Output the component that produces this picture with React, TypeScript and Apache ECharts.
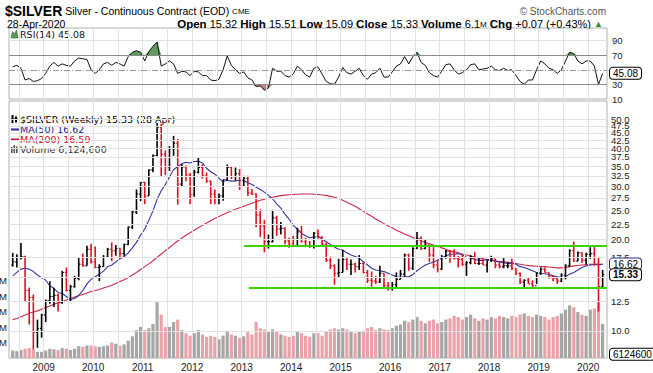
import { useEffect, useRef } from "react";
import * as echarts from "echarts";

// ---------- data (monthly, May 2008 .. Apr 2020) ----------
const FIRST_YEAR = 2008;
const FIRST_MONTH = 5; // May
const firstOpen = 16.5;

const high = [
  18.1, 17.9, 19.5, 17.7, 13.9, 13.2, 10.9, 11.4,
  12.7, 14.6, 13.9, 13.3, 15.8, 16.2, 14.2, 15.2, 17.5, 18.0, 19.1, 19.4,
  19.0, 16.6, 17.8, 18.8, 19.6, 19.2, 18.8, 19.4, 22.1, 25.0, 29.3, 31.0,
  31.0, 34.1, 38.2, 48.5, 48.2, 39.4, 40.7, 44.0, 43.0, 35.5, 35.2, 33.2,
  34.0, 37.5, 35.5, 33.3, 31.3, 29.3, 28.4, 31.5, 35.4, 34.9, 34.6, 34.2,
  32.5, 32.5, 29.4, 28.4, 25.2, 23.2, 20.8, 25.1, 24.0, 22.9, 22.0, 20.3,
  20.6, 21.9, 22.2, 20.3, 19.8, 21.2, 21.6, 20.5, 19.6, 17.6, 16.6, 17.3,
  18.5, 17.4, 17.2, 16.8, 17.8, 17.0, 15.9, 15.7, 15.2, 16.4, 15.5, 14.5,
  14.5, 15.6, 15.9, 18.0, 18.0, 18.9, 21.2, 20.5, 20.1, 19.3, 18.9, 17.2,
  17.8, 18.5, 18.5, 18.6, 17.7, 17.8, 17.0, 17.8, 18.2, 17.5, 17.3, 17.1,
  17.7, 17.3, 16.9, 17.4, 16.9, 17.3, 16.1, 15.6, 14.8, 15.0, 14.7, 15.6,
  16.2, 16.2, 15.6, 15.3, 15.0, 15.5, 16.6, 18.6, 19.7, 18.3, 18.2, 18.1,
  18.9, 18.9, 17.5, 15.9,
];
const low = [
  16.3, 16.2, 17.2, 12.5, 10.5, 8.7, 8.8, 9.5,
  10.7, 12.3, 12.0, 11.6, 12.3, 13.5, 12.5, 13.9, 14.7, 16.3, 16.4, 16.7,
  16.1, 14.6, 16.3, 17.4, 17.0, 17.7, 17.3, 17.7, 19.2, 21.7, 24.3, 26.8,
  26.2, 27.9, 33.4, 37.7, 32.3, 32.7, 33.7, 37.8, 26.1, 30.0, 31.2, 26.2,
  27.7, 33.1, 31.8, 30.8, 26.2, 26.2, 26.2, 26.9, 31.4, 31.7, 31.3, 29.2,
  29.9, 27.9, 28.1, 22.0, 20.4, 18.2, 18.7, 19.6, 20.6, 20.8, 19.3, 18.8,
  19.0, 19.2, 19.6, 18.9, 18.8, 18.7, 20.2, 19.2, 16.9, 16.0, 14.2, 15.0,
  15.6, 15.9, 15.3, 15.6, 15.9, 15.5, 14.4, 14.0, 14.3, 14.4, 13.9, 13.6,
  13.6, 13.9, 14.8, 15.1, 15.8, 15.9, 18.6, 18.5, 18.6, 16.9, 16.1, 15.6,
  15.9, 17.3, 16.8, 17.2, 16.2, 16.4, 15.2, 16.6, 16.6, 16.5, 16.5, 15.6,
  16.9, 16.1, 16.1, 16.1, 16.1, 15.9, 15.3, 14.3, 13.9, 14.3, 13.9, 14.3,
  15.3, 15.6, 14.9, 14.6, 14.3, 14.5, 14.8, 16.3, 16.9, 17.0, 16.8, 16.6,
  17.3, 16.4, 11.6, 13.8,
];
const close = [
  16.9, 17.5, 17.6, 13.6, 12.9, 9.9, 10.2, 11.3,
  12.6, 13.0, 13.1, 12.4, 15.6, 13.6, 14.0, 14.9, 16.6, 16.4, 18.6, 16.9,
  16.2, 16.3, 17.5, 18.6, 18.4, 18.7, 18.0, 19.3, 22.0, 24.7, 28.3, 30.9,
  27.9, 34.0, 37.9, 47.0, 38.3, 34.8, 39.9, 41.6, 30.5, 34.7, 32.7, 28.2,
  33.4, 34.6, 32.5, 31.2, 28.3, 27.4, 27.9, 31.6, 34.6, 32.3, 33.0, 30.0,
  31.9, 28.5, 28.3, 24.1, 22.2, 19.7, 19.7, 23.6, 21.7, 21.8, 19.8, 19.4,
  19.1, 21.2, 19.7, 19.1, 19.0, 21.0, 20.4, 19.3, 17.1, 16.4, 15.5, 15.6,
  17.2, 16.6, 16.6, 16.3, 16.7, 15.6, 14.7, 14.6, 14.5, 15.5, 14.1, 13.8,
  14.2, 14.8, 15.4, 17.8, 16.1, 18.7, 20.2, 18.7, 19.2, 17.8, 16.5, 16.0,
  17.5, 18.3, 18.2, 17.3, 17.2, 16.6, 16.8, 17.6, 16.7, 16.7, 16.5, 17.1,
  17.3, 16.5, 16.3, 16.4, 16.4, 16.1, 15.5, 14.5, 14.7, 14.3, 14.1, 15.5,
  16.0, 15.6, 15.1, 14.9, 14.6, 15.3, 16.4, 18.4, 17.0, 18.1, 17.1, 17.9,
  18.0, 16.6, 14.0, 15.33,
];
const ma50 = [
  15.2, 15.6, 16.0, 16.1, 16.0, 15.7, 15.3, 15.0,
  14.7, 14.1, 13.8, 13.4, 13.3, 13.0, 12.7, 12.8, 13.1, 13.6, 14.3, 14.8,
  15.1, 15.4, 15.75, 16.3, 16.5, 16.9, 17.3, 17.6, 18.1, 18.8, 19.6, 20.7,
  21.7, 23.2, 24.9, 27.2, 29.0, 30.4, 32.2, 34.1, 34.8, 35.6, 36.0, 35.8,
  36.2, 36.3, 35.8, 34.4, 33.5, 32.9, 31.9, 31.1, 31.4, 31.2, 31.25, 31.4,
  31.3, 30.8, 30.4, 29.8, 29.3, 28.7, 28.0, 27.3, 26.25, 25.4, 24.3, 23.4,
  22.3, 21.7, 21.0, 20.6, 20.3, 20.4, 20.5, 20.1, 19.7, 19.3, 18.9, 18.6,
  18.5, 18.1, 17.8, 17.6, 17.4, 16.9, 16.5, 16.1, 15.9, 15.8, 15.7, 15.5,
  15.3, 15.1, 15.0, 15.1, 15.1, 15.35, 15.8, 16.15, 16.5, 16.7, 16.9, 17.1,
  17.4, 17.7, 17.9, 17.9, 18.0, 17.8, 17.5, 17.4, 17.2, 17.1, 17.1, 17.2,
  17.2, 17.0, 16.9, 16.8, 16.7, 16.7, 16.6, 16.3, 16.2, 16.0, 15.8, 15.6,
  15.5, 15.45, 15.35, 15.2, 15.1, 15.0, 15.1, 15.4, 15.6, 15.9, 16.2, 16.4,
  16.5, 16.6, 16.5, 16.62,
];
const ma200 = [
  10.9, 11.0, 11.15, 11.3, 11.45, 11.55, 11.65, 11.8,
  11.95, 12.1, 12.25, 12.4, 12.5, 12.65, 12.8, 12.95, 13.1, 13.2, 13.35, 13.5,
  13.6, 13.7, 13.85, 14.0, 14.15, 14.35, 14.55, 14.75, 15.0, 15.3, 15.6, 15.95,
  16.3, 16.65, 17.05, 17.5, 17.95, 18.4, 18.85, 19.35, 19.8, 20.25, 20.7, 21.1,
  21.5, 21.9, 22.3, 22.7, 23.1, 23.5, 23.85, 24.2, 24.55, 24.9, 25.2, 25.5,
  25.8, 26.1, 26.4, 26.7, 27.0, 27.2, 27.4, 27.6, 27.8, 27.95, 28.05, 28.15,
  28.2, 28.25, 28.3, 28.3, 28.3, 28.25, 28.2, 28.1, 28.0, 27.8, 27.6, 27.35,
  27.0, 26.6, 26.2, 25.8, 25.3, 24.8, 24.3, 23.9, 23.4, 23.0, 22.6, 22.2,
  21.9, 21.5, 21.2, 20.9, 20.6, 20.35, 20.1, 19.85, 19.6, 19.4, 19.2, 19.0,
  18.8, 18.6, 18.4, 18.25, 18.1, 17.95, 17.8, 17.65, 17.5, 17.4, 17.3, 17.2,
  17.1, 17.0, 16.95, 16.9, 16.85, 16.8, 16.7, 16.6, 16.5, 16.45, 16.4, 16.35,
  16.3, 16.3, 16.25, 16.2, 16.15, 16.15, 16.2, 16.3, 16.4, 16.45, 16.5, 16.55,
  16.6, 16.6, 16.6, 16.59,
];
const rsi14 = [
  54, 56, 52, 36, 38, 34, 35, 38,
  45, 55, 60, 55, 58, 56, 55, 62, 66, 65, 64, 50,
  45, 50, 58, 60, 56, 60, 58, 55, 68, 74, 76, 74,
  62, 75, 82, 88, 55, 58, 62, 58, 45, 48, 47, 42,
  48, 47, 42, 42, 36, 35, 37, 50, 69, 56, 50, 45,
  47, 39, 36, 27, 28, 22, 25, 52, 48, 48, 42, 40,
  44, 55, 50, 43, 40, 52, 54, 44, 34, 31, 30, 40,
  53, 46, 44, 48, 52, 42, 37, 44, 46, 52, 40, 40,
  47, 55, 58, 68, 58, 68, 74, 60, 56, 46, 42, 40,
  48, 57, 58, 50, 44, 46, 50, 57, 58, 50, 51, 52,
  55, 50, 49, 52, 49, 50, 42, 34, 30, 36, 36, 50,
  62, 58, 52, 50, 45, 50, 62, 74, 72, 62, 58, 62,
  62, 55, 30, 45.08,
];
const volumeM = [
  12, 11, 13, 15, 16, 14, 10, 10,
  12, 15, 14, 13, 16, 15, 13, 15, 19, 18, 20, 20,
  19, 18, 19, 20, 25, 23, 20, 22, 28, 35, 45, 50,
  45, 48, 55, 90, 70, 50, 50, 58, 62, 45, 40, 36,
  40, 45, 38, 34, 36, 34, 30, 36, 44, 38, 36, 32,
  35, 42, 38, 58, 48, 46, 42, 46, 42, 38, 36, 34,
  36, 42, 40, 36, 34, 40, 40, 36, 42, 46, 48, 46,
  48, 46, 42, 40, 42, 44, 48, 50, 45, 48, 46, 45,
  48, 52, 54, 60, 58, 62, 66, 60, 56, 60, 62, 56,
  58, 62, 64, 68, 66, 62, 66, 70, 64, 60, 64, 62,
  66, 64, 68, 66, 64, 68, 66, 70, 72, 68, 66, 70,
  68, 66, 62, 66, 68, 72, 78, 85, 82, 74, 70, 68,
  78, 80, 90, 55,
];

const priceTicks = [10, 12.5, 15, 17.5, 20, 22.5, 25, 27.5, 30, 32.5, 35, 37.5, 40, 42.5, 45, 47.5, 50];
const hiddenPriceLabels = [15]; // covered by the last-price tag in the reference
const yearTicks = [2009, 2010, 2011, 2012, 2013, 2014, 2015, 2016, 2017, 2018, 2019, 2020];
const supportLines = [
  { from: 2013.05, price: 19.1 },
  { from: 2013.15, price: 13.86 },
];
const lastValues = { price: 15.33, ma50: 16.62, ma200: 16.59, rsi: 45.08, volume: 6124600 };

// ---------- layout ----------
const X_MIN = 2008.3;
const X_MAX = 2020.38;
const LEFT = 9;
const RIGHT = 46;

const timeOf = (i: number) => FIRST_YEAR + (FIRST_MONTH - 1 + i + 0.5) / 12;

export default function App() {
  const ref = useRef<HTMLDivElement>(null);

  useEffect(() => {
    if (!ref.current) return;
    const chart = echarts.init(ref.current, undefined, { renderer: "svg" });

    const halfYears: number[] = [];
    for (let y = 2008.5; y <= 2020.01; y += 0.5) halfYears.push(y);

    const ohlc = close.map((c, i) => [timeOf(i), i === 0 ? firstOpen : close[i - 1], high[i], low[i], c]);
    const lineOf = (arr: number[]) => arr.map((v, i) => [timeOf(i), v]);
    const vol = volumeM.map((v, i) => {
      const up = close[i] >= (i === 0 ? firstOpen : close[i - 1]);
      return { value: [timeOf(i), v], itemStyle: { color: up ? "#a6a6a6" : "#eba1a8" } };
    });

    const baseX = {
      type: "value",
      min: X_MIN,
      max: X_MAX,
      axisLine: { show: false },
      axisTick: { show: false },
      splitLine: { show: false },
      axisLabel: { show: false },
    };
    const noLine = { color: "rgba(0,0,0,0)", width: 0 };
    const tagLabel = (text: string, border: string, bold: boolean) => ({
      show: true,
      position: "end",
      formatter: text,
      color: "#000",
      fontSize: 10,
      fontWeight: bold ? "bold" : "normal",
      backgroundColor: "#fff",
      borderColor: border,
      borderWidth: 1,
      borderRadius: 3,
      padding: [1, 3, 0, 3],
      distance: 3,
    });
    const gridLine = { color: "#e2e2e2", width: 1, type: "solid" };

    const legendFont = "9.5px DejaVu Sans";

    chart.setOption({
      animation: false,
      textStyle: { fontFamily: "Liberation Sans, Arial, sans-serif" },
      grid: [
        { left: LEFT, right: RIGHT, top: 28, height: 71, show: true, borderColor: "#b0b0b0", borderWidth: 1, backgroundColor: "#fff", containLabel: false, outerBoundsMode: "none" },
        { left: LEFT, right: RIGHT, top: 101, height: 257, show: true, borderColor: "#b0b0b0", borderWidth: 1, backgroundColor: "#fff", containLabel: false, outerBoundsMode: "none" },
        { left: LEFT, right: RIGHT, top: 280.5, height: 77.5, show: false, containLabel: false, outerBoundsMode: "none" },
      ],
      xAxis: [
        { ...baseX, gridIndex: 0 },
        {
          ...baseX,
          gridIndex: 1,
          axisLabel: {
            show: true,
            customValues: yearTicks,
            formatter: (v: number) => String(Math.round(v)),
            fontSize: 10,
            color: "#222",
            margin: 4,
          },
        },
        { ...baseX, gridIndex: 2 },
      ],
      yAxis: [
        {
          type: "value",
          gridIndex: 0,
          position: "right",
          min: 10,
          max: 107.1,
          interval: 20,
          axisLine: { show: false },
          axisTick: { show: false },
          splitLine: { show: false },
          axisLabel: {
            fontSize: 9.5,
            color: "#222",
            margin: 5,
            showMaxLabel: false,
            showMinLabel: true,
            formatter: (v: number) => (Math.abs(v - 50) < 0.01 ? "" : String(v)),
          },
        },
        {
          type: "log",
          gridIndex: 1,
          min: 8.146,
          max: 57.34,
          axisLine: { show: false },
          axisTick: { show: false },
          splitLine: { show: false },
          axisLabel: { show: false },
        },
        {
          type: "value",
          gridIndex: 2,
          position: "left",
          min: 0,
          max: 125,
          interval: 25,
          axisLine: { show: false },
          axisTick: { show: false },
          splitLine: { show: false },
          axisLabel: { formatter: "{value}M", fontSize: 9.5, color: "#222", margin: 2, showMinLabel: false },
        },
      ],
      series: [
        // RSI panel grid lines
        {
          type: "line",
          xAxisIndex: 0,
          yAxisIndex: 0,
          data: [],
          z: 1,
          silent: true,
          markLine: {
            silent: true,
            symbol: ["none", "none"],
            label: { show: false },
            data: [
              ...halfYears.map((t) => ({ xAxis: t, lineStyle: gridLine })),
              { yAxis: 90, lineStyle: gridLine },
              { yAxis: 70, lineStyle: { color: "#8a8a8a", width: 1.2, type: "solid" } },
              { yAxis: 30, lineStyle: { color: "#8a8a8a", width: 1.2, type: "solid" } },
              { yAxis: 50, lineStyle: { color: "#9a9a9a", width: 1, type: [6, 2, 1, 2] } },
            ],
          },
        },
        {
          type: "line",
          xAxisIndex: 0,
          yAxisIndex: 0,
          data: lineOf(rsi14.map((v) => Math.max(v, 70))),
          showSymbol: false,
          lineStyle: { width: 0, opacity: 0 },
          areaStyle: { origin: 70, color: "#5e9c5e", opacity: 1 },
          z: 2,
          silent: true,
        },
        {
          type: "line",
          xAxisIndex: 0,
          yAxisIndex: 0,
          data: lineOf(rsi14.map((v) => Math.min(v, 30))),
          showSymbol: false,
          lineStyle: { width: 0, opacity: 0 },
          areaStyle: { origin: 30, color: "#c47f7f", opacity: 1 },
          z: 2,
          silent: true,
        },
        {
          type: "line",
          xAxisIndex: 0,
          yAxisIndex: 0,
          data: lineOf(rsi14),
          showSymbol: false,
          lineStyle: { color: "#111", width: 1 },
          z: 3,
          silent: true,
          markLine: {
            silent: true,
            symbol: ["none", "none"],
            data: [{ yAxis: lastValues.rsi, lineStyle: noLine, label: tagLabel(lastValues.rsi.toFixed(2), "#000", false) }],
          },
        },
        // main panel grid lines and price labels
        {
          type: "line",
          xAxisIndex: 1,
          yAxisIndex: 1,
          data: [],
          z: 1,
          silent: true,
          markLine: {
            silent: true,
            symbol: ["none", "none"],
            data: [
              ...halfYears.map((t) => ({ xAxis: t, lineStyle: gridLine, label: { show: false } })),
              ...priceTicks.map((p) => ({
                yAxis: p,
                lineStyle: gridLine,
                label: {
                  show: !hiddenPriceLabels.includes(p),
                  position: "end",
                  formatter: p.toFixed(1),
                  color: "#222",
                  fontSize: 9.5,
                  distance: 4,
                },
              })),
            ],
          },
        },
        // volume
        {
          type: "bar",
          xAxisIndex: 2,
          yAxisIndex: 2,
          data: vol,
          barWidth: 3.2,
          z: 2,
          silent: true,
          markLine: {
            silent: true,
            symbol: ["none", "none"],
            data: [{ yAxis: lastValues.volume / 1e6, lineStyle: noLine, label: tagLabel(String(lastValues.volume), "#000", false) }],
          },
        },
        // MA(200)
        {
          type: "line",
          xAxisIndex: 1,
          yAxisIndex: 1,
          data: lineOf(ma200),
          showSymbol: false,
          lineStyle: { color: "#d2294a", width: 1.1 },
          z: 3,
          silent: true,
        },
        // MA(50)
        {
          type: "line",
          xAxisIndex: 1,
          yAxisIndex: 1,
          data: lineOf(ma50),
          showSymbol: false,
          lineStyle: { color: "#3535a0", width: 1.1 },
          z: 3,
          silent: true,
          markLine: {
            silent: true,
            symbol: ["none", "none"],
            data: [{ yAxis: lastValues.ma50, lineStyle: noLine, label: tagLabel(lastValues.ma50.toFixed(2), "#2a2a8a", false) }],
          },
        },
        // price bars
        {
          type: "custom",
          xAxisIndex: 1,
          yAxisIndex: 1,
          data: ohlc,
          encode: { x: 0, y: [1, 2, 3, 4] },
          z: 4,
          silent: true,
          renderItem: (_params: any, api: any) => {
            const t = api.value(0);
            const o = api.value(1);
            const h = api.value(2);
            const l = api.value(3);
            const c = api.value(4);
            const ph = api.coord([t, h]);
            const pl = api.coord([t, l]);
            const po = api.coord([t, o]);
            const pc = api.coord([t, c]);
            const color = c >= o ? "#000" : "#e0101e";
            return {
              type: "group",
              children: [
                { type: "line", shape: { x1: ph[0], y1: ph[1], x2: pl[0], y2: pl[1] }, style: { stroke: color, lineWidth: 1.6 } },
                { type: "line", shape: { x1: po[0] - 1.6, y1: po[1], x2: po[0], y2: po[1] }, style: { stroke: color, lineWidth: 1.1 } },
                { type: "line", shape: { x1: pc[0], y1: pc[1], x2: pc[0] + 1.6, y2: pc[1] }, style: { stroke: color, lineWidth: 1.1 } },
              ],
            };
          },
          markLine: {
            silent: true,
            symbol: ["none", "none"],
            data: [{ yAxis: lastValues.price, lineStyle: noLine, label: tagLabel(lastValues.price.toFixed(2), "#000", true) }],
          },
        },
        // support / resistance lines
        {
          type: "line",
          xAxisIndex: 1,
          yAxisIndex: 1,
          data: [],
          z: 5,
          silent: true,
          markLine: {
            silent: true,
            symbol: ["none", "none"],
            label: { show: false },
            lineStyle: { color: "#3bd400", width: 2, type: "solid" },
            data: supportLines.map((s) => [{ coord: [s.from, s.price] }, { coord: [X_MAX, s.price] }]),
          },
        },
      ],
      graphic: {
        elements: [
          {
            type: "text",
            x: 5,
            y: 11,
            style: {
              text: "{a|$SILVER} {b|Silver - Continuous Contract (EOD)} {c|CME}",
              verticalAlign: "middle",
              textVerticalAlign: "middle",
              rich: {
                a: { font: "bold 14px Liberation Sans", fill: "#000" },
                b: { font: "10.5px Liberation Sans", fill: "#000" },
                c: { font: "8px Liberation Sans", fill: "#000" },
              },
              font: "10.5px Liberation Sans",
            },
          },
          {
            type: "text",
            x: 606,
            y: 11,
            style: {
              text: "© StockCharts.com",
              font: "10px Liberation Sans",
              fill: "#555",
              align: "right",
              textAlign: "right",
              verticalAlign: "middle",
              textVerticalAlign: "middle",
            },
          },
          {
            type: "text",
            x: 7,
            y: 24,
            style: {
              text: "28-Apr-2020",
              font: "10.5px Liberation Sans",
              fill: "#000",
              verticalAlign: "middle",
              textVerticalAlign: "middle",
            },
          },
          {
            type: "text",
            x: 603,
            y: 24,
            style: {
              text: "{b|Open} {v|15.32} {b|High} {v|15.51} {b|Low} {v|15.09} {b|Close} {v|15.33} {b|Volume} {v|6.1}{s|M} {b|Chg} {v|+0.07 (+0.43%)} {g|▲}",
              font: "11px Liberation Sans",
              align: "right",
              textAlign: "right",
              verticalAlign: "middle",
              textVerticalAlign: "middle",
              rich: {
                b: { font: "bold 11.5px Liberation Sans", fill: "#000" },
                v: { font: "11px Liberation Sans", fill: "#000" },
                s: { font: "8px Liberation Sans", fill: "#000" },
                g: { font: "9px Liberation Sans", fill: "#2e8b2e" },
              },
            },
          },
          // RSI legend
          {
            type: "polygon",
            shape: { points: [[11, 38], [12.5, 31.5], [14.5, 34], [16.5, 30], [18, 38]] },
            style: { fill: "#5e9c5e", stroke: "#2e5e2e", lineWidth: 0.6 },
          },
          {
            type: "text",
            x: 20,
            y: 34.5,
            style: { text: "RSI(14) 45.08", font: legendFont, fill: "#111", verticalAlign: "middle", textVerticalAlign: "middle" },
          },
          // main legend
          { type: "rect", shape: { x: 11.5, y: 115, width: 2, height: 8 }, style: { fill: "#000" } },
          { type: "rect", shape: { x: 15, y: 116.5, width: 2, height: 6 }, style: { fill: "#000" } },
          { type: "line", shape: { x1: 11, y1: 119, x2: 18, y2: 119 }, style: { stroke: "#000", lineWidth: 0.8 } },
          {
            type: "text",
            x: 20,
            y: 119.5,
            style: { text: "$SILVER (Weekly) 15.33 (28 Apr)", font: legendFont, fill: "#000", verticalAlign: "middle", textVerticalAlign: "middle" },
          },
          { type: "line", shape: { x1: 11, y1: 129.5, x2: 19, y2: 129.5 }, style: { stroke: "#2a2a9a", lineWidth: 2 } },
          {
            type: "text",
            x: 20,
            y: 129.5,
            style: { text: "MA(50) 16.62", font: legendFont, fill: "#20208f", verticalAlign: "middle", textVerticalAlign: "middle" },
          },
          { type: "line", shape: { x1: 11, y1: 139.5, x2: 19, y2: 139.5 }, style: { stroke: "#d0103a", lineWidth: 2 } },
          {
            type: "text",
            x: 20,
            y: 139.5,
            style: { text: "MA(200) 16.59", font: legendFont, fill: "#cc0a33", verticalAlign: "middle", textVerticalAlign: "middle" },
          },
          { type: "rect", shape: { x: 11, y: 147, width: 1.6, height: 6 }, style: { fill: "#555" } },
          { type: "rect", shape: { x: 13.5, y: 145, width: 1.6, height: 8 }, style: { fill: "#555" } },
          { type: "rect", shape: { x: 16, y: 146.5, width: 1.6, height: 6.5 }, style: { fill: "#555" } },
          {
            type: "text",
            x: 20,
            y: 149.5,
            style: { text: "Volume 6,124,600", font: legendFont, fill: "#333", verticalAlign: "middle", textVerticalAlign: "middle" },
          },
        ],
      },
    });

    return () => chart.dispose();
  }, []);

  return (
    <div
      ref={ref}
      style={{ position: "fixed", left: 0, top: 0, width: 653, height: 373, background: "#fff" }}
    />
  );
}
